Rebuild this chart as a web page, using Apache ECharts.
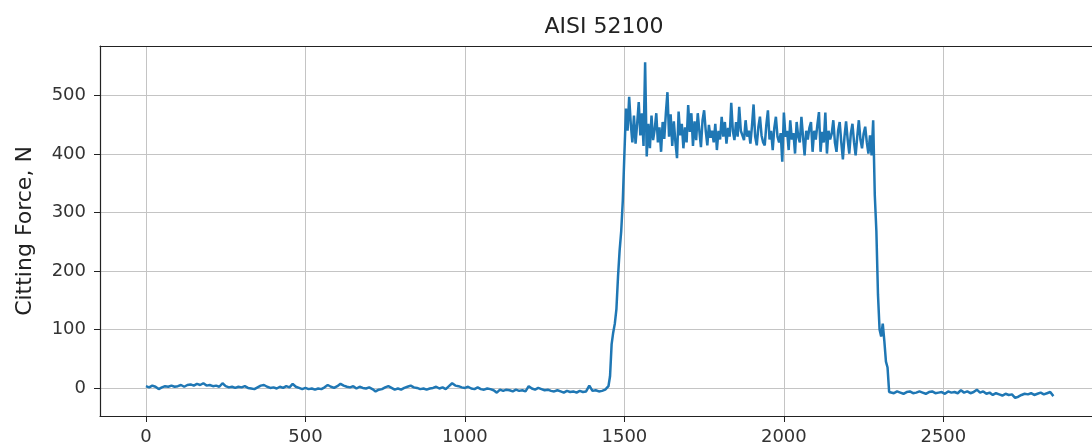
<!DOCTYPE html>
<html>
<head>
<meta charset="utf-8">
<script src="https://cdn.jsdelivr.net/npm/echarts@6/dist/echarts.min.js"></script>
<style>
  html, body { margin: 0; padding: 0; background: #fff; }
  #chart { width: 1092px; height: 446px; }
</style>
</head>
<body>
<div id="chart"></div>
<script>
// cutting force signal
// baseline before the cut: x = 0..1440, step 10
const baseline = [
  3, 1, 4, 2, -2, 1, 3, 2, 4, 2,
  3, 5, 2, 5, 6, 4, 7, 5, 8, 4,
  5, 3, 4, 2, 8, 3, 1, 2, 0, 2,
  1, 3, 0, -1, -2, 1, 4, 5, 2, 0,
  1, -1, 2, 0, 3, 1, 7, 2, 0, -2,
  0, -2, -1, -3, -1, -2, 1, 5, 2, 0,
  3, 7, 4, 2, 1, 3, -1, 2, 0, -1,
  1, -2, -6, -3, -2, 1, 3, 0, -3, -1,
  -3, 0, 2, 4, 1, 0, -2, -1, -3, -1,
  0, 2, -1, 1, -2, 3, 8, 4, 3, 1,
  0, 2, -1, -2, 1, -2, -3, -1, -2, -4,
  -8, -3, -5, -3, -4, -6, -3, -5, -4, -6,
  3, -1, -3, 0, -2, -4, -3, -5, -6, -4,
  -6, -8, -5, -7, -6, -8, -5, -7, -6, 4,
  -5, -4, -6, -5, -3
]
// rise: x = 1445..1500, step 5
const rise = [-3, 3, 20, 75, 95, 110, 135, 190, 235, 268, 320, 400]
// plateau: x = 1505..2280, step 5
const plateau = [
  478, 440, 498, 452, 420, 466, 418, 452, 489, 432,
  470, 414, 557, 396, 452, 410, 466, 424, 442, 470,
  420, 446, 404, 455, 426, 470, 506, 430, 468, 414,
  456, 420, 393, 473, 432, 452, 410, 446, 420, 484,
  438, 470, 414, 456, 424, 470, 440, 412, 458, 475,
  440, 415, 450, 428, 440, 420, 452, 407, 440, 425,
  464, 430, 455, 418, 445, 430, 488, 440, 424, 455,
  430, 481, 440, 432, 424, 458, 430, 440, 418, 448,
  485, 430, 415, 446, 464, 432, 420, 415, 450, 475,
  425, 440, 407, 445, 464, 430, 420, 436, 387, 471,
  430, 440, 407, 458, 425, 436, 401, 455, 430, 420,
  464, 430, 398, 440, 425, 445, 455, 404, 440, 425,
  450, 472, 404, 438, 420, 471, 401, 440, 425, 435,
  458, 420, 404, 440, 455, 420, 391, 430, 456, 425,
  401, 436, 452, 420, 398, 430, 458, 425, 410, 435,
  447, 420, 401, 432, 398, 458
]
// fall: x = 2285..2330, step 5
const fall = [330, 268, 160, 100, 88, 110, 80, 45, 35, -7]
// after the cut: x = 2335..2845, step 10
const tail = [
  -7, -9, -6, -8, -10, -7, -6, -9, -8, -6,
  -8, -10, -7, -6, -9, -8, -7, -10, -6, -8,
  -7, -9, -4, -8, -6, -9, -7, -3, -8, -6,
  -10, -8, -12, -9, -11, -13, -10, -12, -11, -17,
  -15, -12, -10, -11, -9, -12, -10, -8, -11, -9,
  -7, -14
]
const xTicks = [0, 500, 1000, 1500, 2000, 2500]
const yTicks = [0, 100, 200, 300, 400, 500]

function seg (start, step, vals) {
  return vals.map((v, i) => [start + step * i, v])
}
const points = [].concat(
  seg(0, 10, baseline),
  seg(1445, 5, rise),
  seg(1505, 5, plateau),
  seg(2285, 5, fall),
  seg(2335, 10, tail)
)

const font = 'DejaVu Sans'
const frame = { show: true, onZero: false, lineStyle: { color: '#222', width: 1.2 } }
const tickLabel = {
  margin: 12,
  fontFamily: font,
  fontSize: 18,
  color: '#333',
  formatter: v => String(v)
}
const chart = echarts.init(document.getElementById('chart'))
chart.setOption({
  animation: false,
  backgroundColor: '#fff',
  title: {
    text: 'AISI 52100',
    left: 599,
    top: 11,
    textAlign: 'center',
    textStyle: { fontFamily: font, fontSize: 22, fontWeight: 'normal', color: '#222' }
  },
  // the axes box runs on past the right edge of the picture
  grid: { left: 100, top: 46, right: 0, height: 370 },
  xAxis: [{
    type: 'value',
    min: -144,
    max: 2966,
    axisLine: frame,
    axisTick: { show: true, length: 6, lineStyle: { color: '#222' }, customValues: xTicks },
    axisLabel: Object.assign({ customValues: xTicks }, tickLabel),
    splitLine: { show: true, lineStyle: { color: '#c4c4c4', width: 1 } }
  }, {
    // top spine only
    type: 'value',
    position: 'top',
    min: -144,
    max: 2966,
    axisLine: frame,
    axisTick: { show: false },
    axisLabel: { show: false },
    splitLine: { show: false }
  }],
  yAxis: {
    type: 'value',
    min: -48,
    max: 585,
    name: 'Citting Force, N',
    nameLocation: 'middle',
    nameGap: 64,
    nameTextStyle: { fontFamily: font, fontSize: 22, color: '#222' },
    axisLine: frame,
    axisTick: { show: true, length: 6, lineStyle: { color: '#222' }, customValues: yTicks },
    axisLabel: Object.assign({ customValues: yTicks }, tickLabel, { margin: 14 }),
    splitLine: { show: true, lineStyle: { color: '#c4c4c4', width: 1 } }
  },
  series: [{
    type: 'line',
    data: points,
    showSymbol: false,
    lineStyle: { color: '#1f77b4', width: 2.5 },
    itemStyle: { color: '#1f77b4' }
  }]
})
</script>
</body>
</html>
